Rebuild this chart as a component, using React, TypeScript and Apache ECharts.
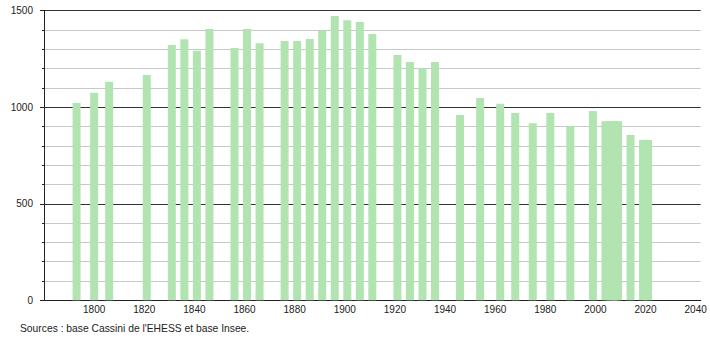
import React, { useEffect, useRef } from "react";
import * as echarts from "echarts";

const years = [
  1793, 1800, 1806, 1821, 1831, 1836, 1841, 1846, 1856, 1861, 1866, 1876, 1881,
  1886, 1891, 1896, 1901, 1906, 1911, 1921, 1926, 1931, 1936, 1946, 1954, 1962,
  1968, 1975, 1982, 1990, 1999, 2004, 2006, 2007, 2008, 2009, 2014, 2019, 2021,
];
const population = [
  1022, 1075, 1132, 1167, 1322, 1352, 1293, 1405, 1307, 1405, 1331, 1343, 1343,
  1353, 1399, 1472, 1450, 1441, 1379, 1270, 1234, 1202, 1234, 960, 1048, 1018,
  970, 917, 970, 903, 980, 928, 928, 928, 928, 928, 856, 832, 830,
];
const sourceText = "Sources : base Cassini de l'EHESS et base Insee.";

export default function App() {
  const ref = useRef<HTMLDivElement>(null);
  useEffect(() => {
    if (!ref.current) return;
    const chart = echarts.init(ref.current, null, { renderer: "svg" });
    const font = "Liberation Sans, Arial, sans-serif";
    chart.setOption({
      animation: false,
      grid: { left: 44, right: 9.3, top: 10.7, bottom: 39.7, containLabel: false },
      xAxis: {
        type: "value",
        min: 1780,
        max: 2042,
        interval: 20,
        axisLine: { show: true, lineStyle: { color: "#222", width: 1 } },
        axisTick: { show: false },
        splitLine: { show: false },
        axisLabel: {
          color: "#222",
          fontSize: 10,
          fontFamily: font,
          margin: 4,
          showMinLabel: false,
          formatter: (v: number) => (v % 20 === 0 && v > 1780 ? String(v) : ""),
        },
      },
      yAxis: {
        type: "value",
        min: 0,
        max: 1500,
        interval: 500,
        axisLine: { show: true, lineStyle: { color: "#222", width: 1 } },
        axisTick: { show: true, length: 4, lineStyle: { color: "#222" } },
        minorTick: { show: true, splitNumber: 5, length: 2, lineStyle: { color: "#222" } },
        splitLine: { show: true, lineStyle: { color: "#333", width: 1 } },
        minorSplitLine: { show: true, lineStyle: { color: "#c8c8c8", width: 1 } },
        axisLabel: {
          color: "#222",
          fontSize: 10,
          fontFamily: font,
          margin: 11,
          formatter: (v: number) => String(v),
        },
      },
      series: [
        {
          type: "bar",
          barWidth: 8,
          data: years.map((y, i) => [y, population[i]]),
          itemStyle: { color: "#b1e4b1" },
          emphasis: { disabled: true },
        },
      ],
      graphic: [
        {
          type: "text",
          left: 20,
          top: 323,
          style: { text: sourceText, fill: "#222", fontSize: 10.3, fontFamily: font },
        },
      ],
    });
    return () => chart.dispose();
  }, []);
  return (
    <div
      ref={ref}
      style={{ position: "fixed", left: 0, top: 0, width: 710, height: 340, background: "#fff" }}
    />
  );
}
